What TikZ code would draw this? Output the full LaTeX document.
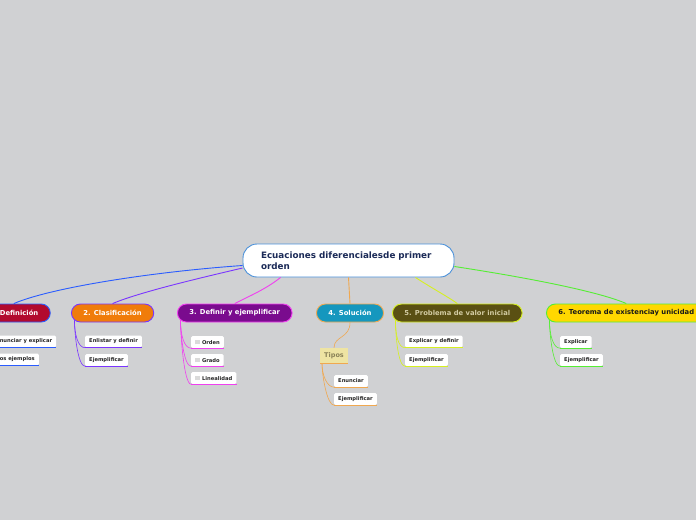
\documentclass[tikz,border=0pt]{standalone}
\usepackage{fontspec}
\setmainfont{DejaVu Sans}
\definecolor{bgc}{HTML}{D0D1D3}
\definecolor{mainb}{HTML}{4A90D9}
\definecolor{navy}{HTML}{1B2A57}
\definecolor{ln1}{HTML}{2A5CFF}
\definecolor{ln2}{HTML}{7A35FF}
\definecolor{ln3}{HTML}{F040F0}
\definecolor{ln4}{HTML}{F0A850}
\definecolor{ln5}{HTML}{D6F020}
\definecolor{ln6}{HTML}{55EE33}
\definecolor{f1}{HTML}{B20A2E}
\definecolor{f2}{HTML}{F07C0A}
\definecolor{f3}{HTML}{7A0B8E}
\definecolor{f4}{HTML}{1597BE}
\definecolor{f5}{HTML}{5A5013}
\definecolor{f6}{HTML}{FFD800}
\definecolor{t5}{HTML}{D2CBA2}
\definecolor{tipf}{HTML}{EEE4A3}
\definecolor{tipt}{HTML}{8A8258}
\definecolor{cbx}{HTML}{DADADA}
\begin{document}
\begin{tikzpicture}[x=1pt,y=-1pt,
  mainbox/.style={draw=mainb, line width=0.9pt, fill=white, rounded corners=14pt,
    minimum height=33pt, text width=175pt, align=left, inner xsep=18pt, inner ysep=0pt,
    font=\bfseries\fontsize{8.8}{10.5}\selectfont, text=navy},
  topic/.style={rounded corners=9pt, minimum height=18pt, line width=0.9pt,
    inner xsep=12pt, inner ysep=0pt, anchor=west,
    font=\bfseries\fontsize{6.8}{8}\selectfont},
  sub/.style={fill=white, rounded corners=1.5pt, minimum height=12pt, inner xsep=4pt,
    inner ysep=0pt, anchor=west, font=\bfseries\fontsize{5.2}{6}\selectfont, text=black!85},
  conn/.style={line width=0.9pt},
  subconn/.style={line width=0.6pt},
  ul/.style={line width=1.3pt}
]
\fill[bgc] (0,0) rectangle (696,520);
\useasboundingbox (0,0) rectangle (696,520);
\clip (0,0) rectangle (696,520);

% central
\node[mainbox] (main) at (348.5,260.5) {Ecuaciones diferencialesde primer\\orden};

% topics
\node[topic, fill=f1, draw=ln1, text=white] (t1) at (-23,313) {1. Definición};
\node[topic, fill=f2, draw=ln2, text=white] (t2) at (71,313) {2. Clasificación};
\node[topic, fill=f3, draw=ln3, text=white] (t3) at (177,313) {3. Definir y ejemplificar};
\node[topic, fill=f4, draw=ln4, text=white] (t4) at (316,313) {4. Solución};
\node[topic, fill=f5, draw=ln5, text=t5] (t5) at (392,313) {5. Problema de valor inicial};
\node[topic, fill=f6, draw=ln6, text=black!90] (t6) at (546,313) {6. Teorema de existenciay unicidad};

% main connectors
\draw[conn, ln1] ([yshift=-5pt]main.west) .. controls (150,272) and (50,288) .. (t1.north);
\draw[conn, ln2] ([yshift=-7.5pt]main.west) .. controls (200,278) and (140,292) .. (t2.north);
\draw[conn, ln3] ([xshift=38pt]main.south west) .. controls (265,290) and (245,298) .. (t3.north);
\draw[conn, ln4] (main.south) -- (t4.north);
\draw[conn, ln5] ([xshift=-39pt]main.south east) .. controls (430,287) and (450,298) .. (t5.north);
\draw[conn, ln6] ([yshift=-6pt]main.east) .. controls (530,278) and (600,292) .. (t6.north);

% sub nodes
\node[sub] (c1a) at (-8,341.5) {Enunciar y explicar};
\node[sub, anchor=east] (c1b) at (39,359.5) {Dos ejemplos};
\node[sub] (c2a) at (85,341.5) {Enlistar y definir};
\node[sub] (c2b) at (85,360) {Ejemplificar};
\node[sub] (c3a) at (191,342) {\textcolor{cbx}{\rule[-0.4pt]{4.8pt}{4.8pt}}\hspace{2pt}Orden};
\node[sub] (c3b) at (191,360) {\textcolor{cbx}{\rule[-0.4pt]{4.8pt}{4.8pt}}\hspace{2pt}Grado};
\node[sub] (c3c) at (191,378) {\textcolor{cbx}{\rule[-0.4pt]{4.8pt}{4.8pt}}\hspace{2pt}Linealidad};
\node[fill=tipf, minimum height=15pt, inner xsep=4pt, inner ysep=0pt, anchor=west,
  font=\bfseries\fontsize{6.5}{7.5}\selectfont, text=tipt] (tip) at (320,355.5) {Tipos};
\node[sub] (c4a) at (334,381) {Enunciar};
\node[sub] (c4b) at (334,399) {Ejemplificar};
\node[sub] (c5a) at (405,341.5) {Explicar y definir};
\node[sub] (c5b) at (405,360) {Ejemplificar};
\node[sub] (c6a) at (560,342) {Explicar};
\node[sub] (c6b) at (560,360) {Ejemplificar};

% sub connectors
\foreach \p/\n/\c in {t1/c1a/ln1, t1/c1b/ln1, t2/c2a/ln2, t2/c2b/ln2, t3/c3a/ln3, t3/c3b/ln3, t3/c3c/ln3, t5/c5a/ln5, t5/c5b/ln5, t6/c6a/ln6, t6/c6b/ln6}
  \draw[subconn, \c] ([xshift=3.5pt,yshift=2pt]\p.south west) .. controls +(0,14) and +(-7,0) .. (\n.south west);
\draw[subconn, ln4] (t4.south) .. controls +(0,16) and +(0,-12) .. (tip.north);
\foreach \n in {c4a, c4b}
  \draw[subconn, ln4] ([xshift=2pt]tip.south west) .. controls +(0,12) and +(-7,0) .. (\n.south west);

% underlines
\foreach \n/\c in {c1a/ln1, c1b/ln1, c2a/ln2, c2b/ln2, c3a/ln3, c3b/ln3, c3c/ln3, tip/ln4, c4a/ln4, c4b/ln4, c5a/ln5, c5b/ln5, c6a/ln6, c6b/ln6}
  \draw[ul, \c] (\n.south west) -- (\n.south east);
\end{tikzpicture}
\end{document}
